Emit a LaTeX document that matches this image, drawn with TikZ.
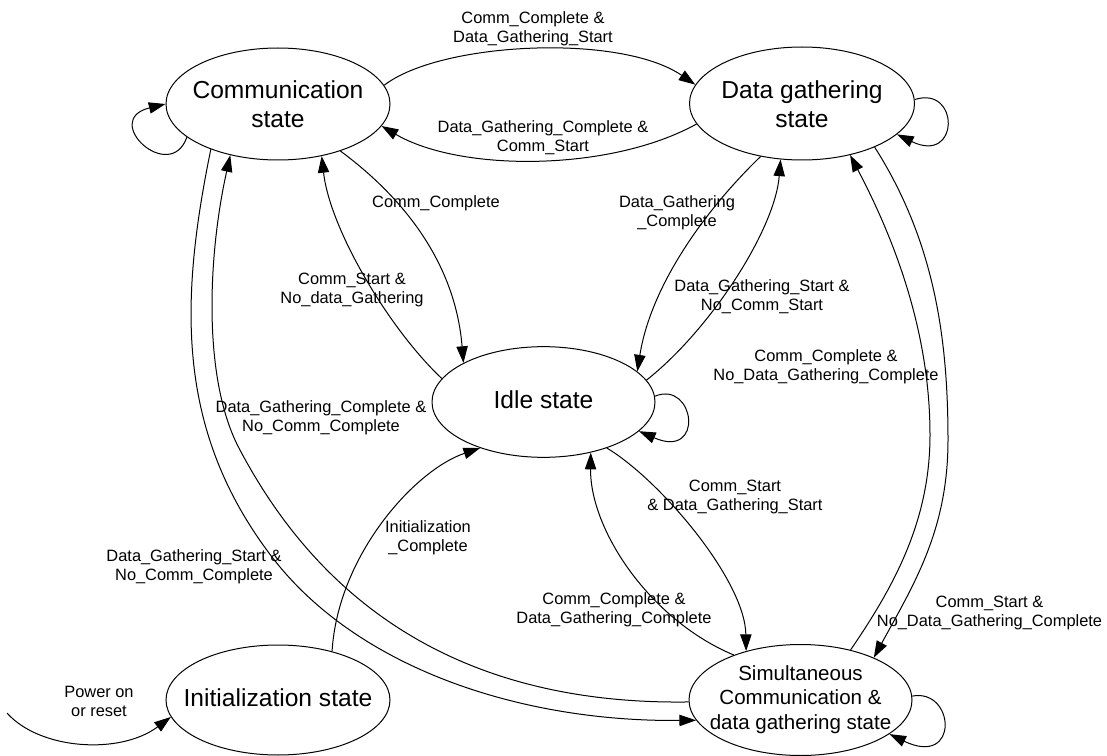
\documentclass[tikz,border=0pt]{standalone}
\usepackage{fontspec}
\setmainfont{Liberation Sans}
\usetikzlibrary{arrows.meta,shapes.geometric}

\begin{document}
\begin{tikzpicture}[x=0.75pt,y=-0.75pt,
  st/.style={draw, ellipse, line width=0.75pt, minimum width=168pt, minimum height=84pt, inner sep=0pt},
  sttxt/.style={align=center, inner sep=0pt, font=\fontsize{18.45}{21.75}\selectfont},
  simtxt/.style={align=center, inner sep=0pt, font=\fontsize{15.4}{18.4}\selectfont},
  lbl/.style={align=center, inner sep=0pt, font=\fontsize{12.3}{14.6}\selectfont},
  tr/.style={line width=0.75pt, -{Triangle[length=12.5pt,width=8.5pt]}},
  ln/.style={line width=0.75pt}
]
\useasboundingbox (0,0) rectangle (1107,756);

% states
\node[st] (comm) at (278,104) {};
\node[st, minimum width=168.75pt, minimum height=84.75pt] (data) at (802,103.5) {};
\node[st, minimum width=167.25pt, minimum height=83pt] (idle) at (543.5,402) {};
\node[st, minimum height=82.5pt] (init) at (278,700) {};
\node[st, minimum width=167.25pt, minimum height=83.25pt] (sim) at (800.5,700) {};

\node[sttxt] (commtxt) at (278,104) {Communication\\state};
\node[sttxt] (datatxt) at (802,104) {Data gathering\\state};
\node[sttxt] (idletxt) at (543.5,400) {Idle state};
\node[sttxt] (inittxt) at (278,698) {Initialization state};
\node[simtxt] (simtxt) at (800.5,699.5) {Simultaneous\\Communication \&\\data gathering state};

% transitions between communication and data gathering
\draw[tr] (comm.10) .. controls (440,42) and (620,33) .. (data.170);
\draw[tr] (data.191) .. controls (610,172) and (460,172) .. (comm.348);

% self loops
\draw[tr] (comm.200) .. controls (170,185) and (100,120) .. (comm.180);
\draw[tr] (data.2) .. controls (960,85) and (960,165) .. (data.342);
\draw[tr] (idle.3) .. controls (695,380) and (705,460) .. (idle.343);
\draw[tr] (sim.2) .. controls (955,688) and (960,768) .. (sim.339);

% to and from idle
\draw[tr] (comm.323) .. controls (400,195) and (455,260) .. (idle.154);
\draw[tr] (idle.167) .. controls (390,330) and (330,230) .. (comm.310);
\draw[tr] (data.232) .. controls (700,215) and (650,290) .. (idle.18);
\draw[tr] (idle.12) .. controls (710,330) and (775,230) .. (data.249);
\draw[tr] (idle.324) .. controls (660,480) and (745,580) .. (sim.138);
\draw[tr] (sim.146) .. controls (650,620) and (590,530) .. (idle.313);
\draw[tr] (init.42) .. controls (338,555) and (415,470) .. (idle.216);

% long arcs between the simultaneous state and the single states
\draw[tr] (comm.214) .. controls (180,300) and (175,430) .. (272,557)
  .. controls (357,668) and (520,722) .. (sim.191);
\draw[tr] (sim.181) .. controls (480,705) and (330,620) .. (240,450)
  .. controls (202,380) and (208,255) .. (comm.227);
\draw[tr] (data.329) .. controls (935,242) and (948,340) .. (948,440)
  .. controls (948,530) and (914,584) .. (sim.30);
\draw[tr] (sim.45) .. controls (895,585) and (930,520) .. (930,435)
  .. controls (930,340) and (900,250) .. (data.313);

% power on entry
\coordinate (pwr) at (7,713);
\draw[tr] (pwr) .. controls (40,750) and (120,755) .. (init.189);

% transition labels
\node[lbl] (l1) at (533,28.5) {Comm\_Complete \&\\Data\_Gathering\_Start};
\node[lbl] (l2) at (543,137.5) {Data\_Gathering\_Complete \&\\Comm\_Start};
\node[lbl] (l3) at (436,203) {Comm\_Complete};
\node[lbl] (l4) at (352,290) {Comm\_Start \&\\No\_data\_Gathering};
\node[lbl] (l5) at (677,213) {Data\_Gathering\\\_Complete};
\node[lbl] (l6) at (762,296.5) {Data\_Gathering\_Start \&\\No\_Comm\_Start};
\node[lbl] (l7) at (826,367) {Comm\_Complete \&\\No\_Data\_Gathering\_Complete};
\node[lbl] (l8) at (321,418) {Data\_Gathering\_Complete \&\\No\_Comm\_Complete};
\node[lbl] (l9) at (194,567) {Data\_Gathering\_Start \&\\No\_Comm\_Complete};
\node[lbl] (l10) at (428,538) {Initialization\\\_Complete};
\node[lbl] (l11) at (735,497) {Comm\_Start\\\& Data\_Gathering\_Start};
\node[lbl] (l12) at (614,609.5) {Comm\_Complete \&\\Data\_Gathering\_Complete};
\node[lbl] (l13) at (989.5,613) {Comm\_Start \&\\No\_Data\_Gathering\_Complete};
\node[lbl] (l14) at (99,701.5) {Power on\\or reset};
\end{tikzpicture}
\end{document}
